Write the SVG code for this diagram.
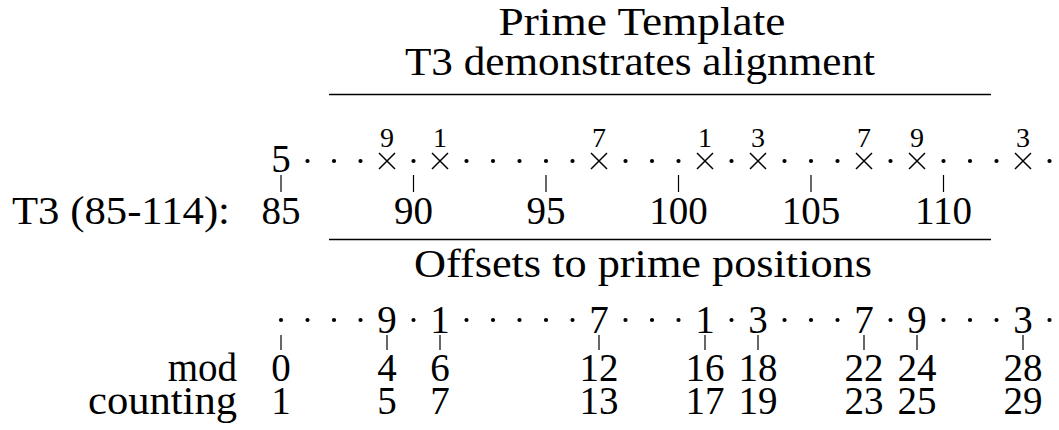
<svg xmlns="http://www.w3.org/2000/svg" width="1059" height="430" viewBox="0 0 1059 430">
<style>
text{fill:#000;}
.t{font-size:39px;text-anchor:middle;}
.s{font-size:28px;text-anchor:middle;}
.l{font-size:39px;}
.rule{stroke:#000;stroke-width:1.4;}
.tick{stroke:#000;stroke-width:1.2;}
.x{stroke:#000;stroke-width:1.5;fill:none;}
.d{fill:#000;}
</style>
<defs>
<path id="cross" class="x" d="M-8,-8L8,8M-8,8L8,-8"/>
<circle id="dot" class="d" r="2.1"/>
</defs>
<rect width="1059" height="430" fill="#fff"/>

<g id="header" font-family="Liberation Serif">
<text class="t" x="642" y="35" textLength="287" lengthAdjust="spacingAndGlyphs">Prime Template</text>
<text class="t" x="640" y="75" textLength="470" lengthAdjust="spacingAndGlyphs">T3 demonstrates alignment</text>
<line class="rule" x1="329" y1="94.5" x2="991" y2="94.5"/>
</g>

<g id="top-row" font-family="Liberation Serif">
<text class="t" x="281" y="172">5</text>
<use href="#dot" x="307.5" y="161"/><use href="#dot" x="334" y="161"/><use href="#dot" x="360.5" y="161"/>
<use href="#cross" x="387" y="161"/><text class="s" x="387" y="147">9</text>
<use href="#dot" x="413.5" y="161"/>
<use href="#cross" x="440" y="161"/><text class="s" x="440" y="147">1</text>
<use href="#dot" x="466.5" y="161"/><use href="#dot" x="493" y="161"/><use href="#dot" x="519.5" y="161"/><use href="#dot" x="546" y="161"/><use href="#dot" x="572.5" y="161"/>
<use href="#cross" x="599" y="161"/><text class="s" x="599" y="147">7</text>
<use href="#dot" x="625.5" y="161"/><use href="#dot" x="652" y="161"/><use href="#dot" x="678.5" y="161"/>
<use href="#cross" x="705" y="161"/><text class="s" x="705" y="147">1</text>
<use href="#dot" x="731.5" y="161"/>
<use href="#cross" x="758" y="161"/><text class="s" x="758" y="147">3</text>
<use href="#dot" x="784.5" y="161"/><use href="#dot" x="811" y="161"/><use href="#dot" x="837.5" y="161"/>
<use href="#cross" x="864" y="161"/><text class="s" x="864" y="147">7</text>
<use href="#dot" x="890.5" y="161"/>
<use href="#cross" x="917" y="161"/><text class="s" x="917" y="147">9</text>
<use href="#dot" x="943.5" y="161"/><use href="#dot" x="970" y="161"/><use href="#dot" x="996.5" y="161"/>
<use href="#cross" x="1023" y="161"/><text class="s" x="1023" y="147">3</text>
<use href="#dot" x="1049.5" y="161"/>
</g>

<g id="top-labels" font-family="Liberation Serif">
<text class="l" x="12" y="224" textLength="218" lengthAdjust="spacingAndGlyphs">T3 (85-114):</text>
<text class="t" x="281" y="224">85</text>
<text class="t" x="413.5" y="224">90</text>
<text class="t" x="546" y="224">95</text>
<text class="t" x="678.5" y="224">100</text>
<text class="t" x="811" y="224">105</text>
<text class="t" x="943.5" y="224">110</text>
</g>

<g id="offsets-header" font-family="Liberation Serif">
<line class="rule" x1="329" y1="239.5" x2="991" y2="239.5"/>
<text class="t" x="643" y="277" textLength="458" lengthAdjust="spacingAndGlyphs">Offsets to prime positions</text>
</g>

<g id="bottom-row" font-family="Liberation Serif">
<use href="#dot" x="281" y="320"/><use href="#dot" x="307.5" y="320"/><use href="#dot" x="334" y="320"/><use href="#dot" x="360.5" y="320"/>
<text class="t" x="387" y="333">9</text>
<use href="#dot" x="413.5" y="320"/>
<text class="t" x="440" y="333">1</text>
<use href="#dot" x="466.5" y="320"/><use href="#dot" x="493" y="320"/><use href="#dot" x="519.5" y="320"/><use href="#dot" x="546" y="320"/><use href="#dot" x="572.5" y="320"/>
<text class="t" x="599" y="333">7</text>
<use href="#dot" x="625.5" y="320"/><use href="#dot" x="652" y="320"/><use href="#dot" x="678.5" y="320"/>
<text class="t" x="705" y="333">1</text>
<use href="#dot" x="731.5" y="320"/>
<text class="t" x="758" y="333">3</text>
<use href="#dot" x="784.5" y="320"/><use href="#dot" x="811" y="320"/><use href="#dot" x="837.5" y="320"/>
<text class="t" x="864" y="333">7</text>
<use href="#dot" x="890.5" y="320"/>
<text class="t" x="917" y="333">9</text>
<use href="#dot" x="943.5" y="320"/><use href="#dot" x="970" y="320"/><use href="#dot" x="996.5" y="320"/>
<text class="t" x="1023" y="333">3</text>
<use href="#dot" x="1049.5" y="320"/>
</g>

<g id="mod-row" font-family="Liberation Serif">
<text class="l" x="237" y="381" text-anchor="end">mod</text>
<text class="t" x="281" y="381">0</text>
<text class="t" x="387" y="381">4</text>
<text class="t" x="440" y="381">6</text>
<text class="t" x="599" y="381">12</text>
<text class="t" x="705" y="381">16</text>
<text class="t" x="758" y="381">18</text>
<text class="t" x="864" y="381">22</text>
<text class="t" x="917" y="381">24</text>
<text class="t" x="1023" y="381">28</text>
</g>

<g id="counting-row" font-family="Liberation Serif">
<text class="l" x="237" y="414" text-anchor="end" textLength="149" lengthAdjust="spacingAndGlyphs">counting</text>
<text class="t" x="281" y="414">1</text>
<text class="t" x="387" y="414">5</text>
<text class="t" x="440" y="414">7</text>
<text class="t" x="599" y="414">13</text>
<text class="t" x="705" y="414">17</text>
<text class="t" x="758" y="414">19</text>
<text class="t" x="864" y="414">23</text>
<text class="t" x="917" y="414">25</text>
<text class="t" x="1023" y="414">29</text>
</g>

<g id="connectors">
<line class="tick" x1="281" y1="175" x2="281" y2="192"/>
<line class="tick" x1="413.5" y1="175" x2="413.5" y2="192"/>
<line class="tick" x1="546" y1="175" x2="546" y2="192"/>
<line class="tick" x1="678.5" y1="175" x2="678.5" y2="192"/>
<line class="tick" x1="811" y1="175" x2="811" y2="192"/>
<line class="tick" x1="943.5" y1="175" x2="943.5" y2="192"/>
<line class="tick" x1="281" y1="335" x2="281" y2="350"/>
<line class="tick" x1="387" y1="335" x2="387" y2="350"/>
<line class="tick" x1="440" y1="335" x2="440" y2="350"/>
<line class="tick" x1="599" y1="335" x2="599" y2="350"/>
<line class="tick" x1="705" y1="335" x2="705" y2="350"/>
<line class="tick" x1="758" y1="335" x2="758" y2="350"/>
<line class="tick" x1="864" y1="335" x2="864" y2="350"/>
<line class="tick" x1="917" y1="335" x2="917" y2="350"/>
<line class="tick" x1="1023" y1="335" x2="1023" y2="350"/>
</g>
</svg>
